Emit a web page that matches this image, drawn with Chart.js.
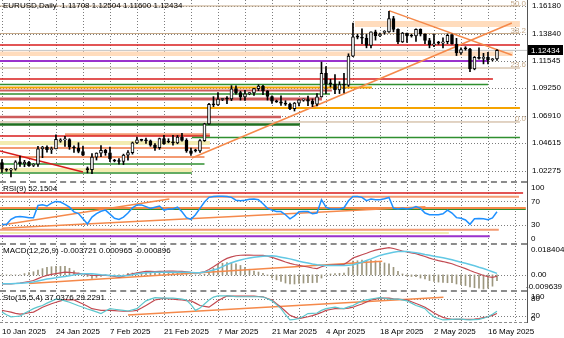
<!DOCTYPE html>
<html lang="en">
<head>
<meta charset="UTF-8">
<title>EURUSD, Daily</title>
<style>
  body { margin: 0; background: #fff; }
  #chart { position: relative; width: 564px; height: 338px; overflow: hidden; background: #fff; }
  #chart canvas { position: absolute; left: 0; }
  .sep { position: absolute; left: 0; width: 527px; border-top: 2px dashed #8c8c8c; }
  .axis { position: absolute; left: 527px; top: 0; width: 1px; height: 323px; background: #555; }
</style>
</head>
<body>
<div id="chart">
  <canvas id="mainChart" width="564" height="181" style="top:0px"></canvas>
  <canvas id="rsiChart" width="564" height="58" style="top:184px"></canvas>
  <canvas id="macdChart" width="564" height="44" style="top:246px"></canvas>
  <canvas id="stoChart" width="564" height="45" style="top:293px"></canvas>
  <div class="sep" style="top:181px"></div>
  <div class="sep" style="top:243px"></div>
  <div class="sep" style="top:290px"></div>
  <div class="sep" style="top:322px; border-top-width:1px"></div>
  <div class="axis"></div>
</div>

<script src="https://cdn.jsdelivr.net/npm/chart.js"></script>
<script>
// daily bars (broker feed with short Sunday bars)
var days = ['10 Jan','12 Jan','13 Jan','14 Jan','15 Jan','16 Jan','17 Jan','19 Jan','20 Jan','21 Jan','22 Jan','23 Jan','24 Jan','26 Jan','27 Jan','28 Jan','29 Jan','30 Jan','31 Jan',
  '2 Feb','3 Feb','4 Feb','5 Feb','6 Feb','7 Feb','9 Feb','10 Feb','11 Feb','12 Feb','13 Feb','14 Feb','16 Feb','17 Feb','18 Feb','19 Feb','20 Feb','21 Feb','23 Feb','24 Feb','25 Feb','26 Feb','27 Feb','28 Feb',
  '2 Mar','3 Mar','4 Mar','5 Mar','6 Mar','7 Mar','9 Mar','10 Mar','11 Mar','12 Mar','13 Mar','14 Mar','16 Mar','17 Mar','18 Mar','19 Mar','20 Mar','21 Mar','23 Mar','24 Mar','25 Mar','26 Mar','27 Mar','28 Mar','30 Mar','31 Mar',
  '1 Apr','2 Apr','3 Apr','4 Apr','6 Apr','7 Apr','8 Apr','9 Apr','10 Apr','11 Apr','13 Apr','14 Apr','15 Apr','16 Apr','17 Apr','18 Apr','20 Apr','21 Apr','22 Apr','23 Apr','24 Apr','25 Apr','27 Apr','28 Apr','29 Apr','30 Apr',
  '1 May','2 May','4 May','5 May','6 May','7 May','8 May','9 May','11 May','12 May','13 May','14 May','15 May','16 May','18 May','19 May'];

var open = [1.0299,1.0240,1.0236,1.0244,1.0306,1.0290,1.0300,1.0275,1.0285,1.0415,
  1.0430,1.0408,1.0414,1.0480,1.0490,1.0493,1.0430,1.0422,1.0392,1.0245,
  1.0240,1.0345,1.0379,1.0403,1.0382,1.0320,1.0312,1.0308,1.0361,1.0383,
  1.0465,1.0490,1.0486,1.0483,1.0446,1.0424,1.0500,1.0480,1.0472,1.0465,
  1.0513,1.0486,1.0398,1.0400,1.0398,1.0484,1.0625,1.0789,1.0785,1.0830,
  1.0835,1.0834,1.0920,1.0888,1.0852,1.0880,1.0885,1.0922,1.0943,1.0902,
  1.0855,1.0815,1.0810,1.0800,1.0790,1.0752,1.0800,1.0825,1.0830,1.0815,
  1.0790,1.0852,1.1050,1.0970,1.0960,1.0910,1.0955,1.0950,1.1195,1.1360,
  1.1355,1.1346,1.1285,1.1400,1.1368,1.1395,1.1400,1.1512,1.1420,1.1314,
  1.1389,1.1370,1.1365,1.1420,1.1380,1.1327,1.1290,1.1310,1.1305,1.1316,
  1.1370,1.1297,1.1222,1.1265,1.1255,1.1088,1.1185,1.1175,1.1187,1.1165,1.11708];
var high = [1.0325,1.0248,1.0250,1.0315,1.0353,1.0318,1.0310,1.0290,1.0435,1.0436,
  1.0439,1.0430,1.0533,1.0500,1.0520,1.0500,1.0440,1.0466,1.0437,1.0262,
  1.0375,1.0381,1.0443,1.0410,1.0430,1.0326,1.0333,1.0370,1.0400,1.0472,
  1.0513,1.0496,1.0505,1.0489,1.0458,1.0505,1.0528,1.0500,1.0528,1.0527,
  1.0545,1.0500,1.0420,1.0412,1.0492,1.0630,1.0797,1.0854,1.0888,1.0840,
  1.0855,1.0947,1.0946,1.0900,1.0907,1.0890,1.0925,1.0955,1.0950,1.0905,
  1.0860,1.0825,1.0860,1.0820,1.0800,1.0805,1.0830,1.0835,1.0858,1.0835,
  1.0880,1.1145,1.1107,1.1000,1.1040,1.0980,1.1050,1.1215,1.1473,1.1380,
  1.1425,1.1380,1.1400,1.1414,1.1390,1.1410,1.1573,1.1530,1.1425,1.1395,
  1.1390,1.1380,1.1425,1.1425,1.1384,1.1345,1.1381,1.1320,1.1350,1.1381,
  1.1380,1.1345,1.1265,1.1275,1.1260,1.1192,1.1265,1.1219,1.1228,1.1175,1.12504];
var low = [1.0215,1.0225,1.0178,1.0235,1.0266,1.0264,1.0266,1.0265,1.0266,1.0340,
  1.0386,1.0375,1.0414,1.0470,1.0434,1.0410,1.0385,1.0381,1.0358,1.0212,
  1.0205,1.0320,1.0348,1.0360,1.0307,1.0305,1.0285,1.0282,1.0320,1.0370,
  1.0459,1.0480,1.0461,1.0436,1.0402,1.0410,1.0452,1.0465,1.0445,1.0457,
  1.0480,1.0385,1.0360,1.0388,1.0385,1.0477,1.0620,1.0770,1.0780,1.0820,
  1.0794,1.0820,1.0875,1.0825,1.0822,1.0870,1.0865,1.0905,1.0870,1.0825,
  1.0797,1.0805,1.0780,1.0780,1.0745,1.0733,1.0775,1.0815,1.0778,1.0770,
  1.0776,1.0850,1.0880,1.0935,1.0880,1.0880,1.0885,1.0940,1.1190,1.1340,
  1.1300,1.1265,1.1265,1.1330,1.1360,1.1380,1.1395,1.1400,1.1300,1.1310,
  1.1310,1.1355,1.1320,1.1365,1.1300,1.1265,1.1274,1.1295,1.1265,1.1300,
  1.1295,1.1200,1.1210,1.1245,1.1065,1.1080,1.1170,1.1130,1.1130,1.1155,1.11600];
var close = [1.0244,1.0236,1.0244,1.0306,1.0290,1.0300,1.0272,1.0285,1.0415,1.0430,
  1.0408,1.0414,1.0495,1.0490,1.0493,1.0430,1.0422,1.0392,1.0362,1.0240,
  1.0345,1.0379,1.0403,1.0382,1.0329,1.0312,1.0308,1.0361,1.0383,1.0465,
  1.0491,1.0486,1.0483,1.0446,1.0424,1.0500,1.0459,1.0472,1.0465,1.0513,
  1.0486,1.0398,1.0375,1.0398,1.0484,1.0625,1.0789,1.0785,1.0833,1.0835,
  1.0834,1.0920,1.0888,1.0852,1.0877,1.0885,1.0922,1.0943,1.0902,1.0855,
  1.0815,1.0810,1.0800,1.0790,1.0752,1.0800,1.0828,1.0830,1.0815,1.0790,
  1.0852,1.1050,1.0960,1.0960,1.0910,1.0955,1.0950,1.1195,1.1357,1.1355,
  1.1346,1.1285,1.1400,1.1368,1.1375,1.1400,1.1512,1.1420,1.1314,1.1389,
  1.1365,1.1365,1.1420,1.1380,1.1327,1.1290,1.1298,1.1305,1.1316,1.1370,
  1.1297,1.1222,1.1251,1.1255,1.1088,1.1185,1.1175,1.1187,1.1163,1.1170,1.12434];

var rsi = [30,30,39,43,44,43,42,42,63,64,
  62,67,70,69,65,60,52,49,40,31,
  43,49,53,55,48,41,39,43,50,59,
  64,64,61,58,60,62,55,57,57,60,
  52,42,39,47,58,69,77,78.5,79,79,
  78.5,77,72,71,72,73.5,74,73,66,58,
  55,52.5,52.5,47,40,45,52,52.5,52.5,48.6,
  50,73,60,57,57,57,59,71,78.5,78.5,
  77,71.2,74,72.9,73,74.5,76.8,58,57,58,
  57,58,61,58,50,47,47,47,48.6,55,
  50,42,41,38,30.5,40,40.5,40,38.5,41.5,52.1504];

var macdMain = [-0.0057,-0.0057,-0.0057,-0.0055,-0.0053,-0.0047,-0.0042,-0.0036,-0.0024,-0.0012,
  -0.0003,0.0003,0.0008,0.0013,0.0017,0.0016,0.0013,0.0010,0.0007,0.0002,
  -0.0004,-0.0004,-0.0004,-0.0003,-0.0005,-0.0010,-0.0015,-0.0008,0.0001,0.0007,
  0.0013,0.0018,0.0022,0.0022,0.0021,0.0022,0.0023,0.0024,0.0024,0.0023,
  0.0022,0.0019,0.0016,0.0014,0.0014,0.0020,0.0034,0.0052,0.0071,0.0090,
  0.0105,0.0115,0.0122,0.0125,0.0126,0.0126,0.0125,0.0125,0.0124,0.0119,
  0.0112,0.0102,0.0092,0.0082,0.0073,0.0066,0.0060,0.0055,0.0050,0.0044,
  0.0040,0.0052,0.0060,0.0063,0.0064,0.0065,0.0066,0.0085,0.0108,0.0118,
  0.0128,0.0138,0.0149,0.0158,0.0164,0.0169,0.0173,0.0168,0.0160,0.0152,
  0.0146,0.0140,0.0135,0.0126,0.0117,0.0107,0.0098,0.0091,0.0085,0.0078,
  0.0071,0.0060,0.0050,0.0040,0.0028,0.0017,0.0007,-0.0004,-0.0012,-0.0016,-0.000896];
var macdSignal = [-0.0057,-0.0057,-0.0057,-0.0055,-0.0053,-0.0051,-0.0049,-0.0046,-0.0039,-0.0032,
  -0.0027,-0.0023,-0.0019,-0.0014,-0.0010,-0.0005,0.0000,0.0004,0.0007,0.0007,
  0.0007,0.0004,0.0001,-0.0001,-0.0004,-0.0006,-0.0008,-0.0006,-0.0004,0.0001,
  0.0007,0.0010,0.0013,0.0015,0.0016,0.0017,0.0017,0.0017,0.0017,0.0017,
  0.0017,0.0016,0.0015,0.0014,0.0013,0.0018,0.0024,0.0031,0.0039,0.0053,
  0.0066,0.0077,0.0087,0.0095,0.0102,0.0108,0.0113,0.0116,0.0119,0.0121,
  0.0122,0.0118,0.0113,0.0108,0.0102,0.0095,0.0087,0.0081,0.0075,0.0069,
  0.0064,0.0062,0.0060,0.0060,0.0060,0.0060,0.0060,0.0062,0.0064,0.0073,
  0.0081,0.0092,0.0102,0.0113,0.0124,0.0131,0.0138,0.0144,0.0149,0.0149,
  0.0149,0.0145,0.0141,0.0136,0.0130,0.0125,0.0119,0.0114,0.0109,0.0103,
  0.0096,0.0089,0.0081,0.0074,0.0066,0.0058,0.0049,0.0041,0.0030,0.0020,0.000965];
var macdHist = [0,0,0,0,0,0.0008,0.0014,0.0020,0.0030,0.0040,
  0.0048,0.0052,0.0054,0.0054,0.0054,0.0042,0.0026,0.0012,0,-0.0010,
  -0.0022,-0.0016,-0.0010,-0.0004,-0.0002,-0.0008,-0.0014,-0.0004,0.0010,0.0012,
  0.0012,0.0016,0.0018,0.0014,0.0010,0.0010,0.0012,0.0014,0.0014,0.0012,
  0.0010,0.0006,0.0002,0,0.0002,0.0004,0.0020,0.0042,0.0064,0.0074,
  0.0078,0.0076,0.0070,0.0060,0.0048,0.0036,0.0024,0.0018,0.0010,-0.0004,
  -0.0020,-0.0032,-0.0042,-0.0052,-0.0058,-0.0058,-0.0054,-0.0052,-0.0050,-0.0050,
  -0.0048,-0.0020,0,0.0006,0.0008,0.0010,0.0012,0.0046,0.0088,0.0090,
  0.0094,0.0092,0.0094,0.0090,0.0080,0.0076,0.0070,0.0048,0.0022,0.0006,
  -0.0006,-0.0010,-0.0012,-0.0020,-0.0026,-0.0036,-0.0042,-0.0046,-0.0048,-0.0050,
  -0.0050,-0.0058,-0.0062,-0.0068,-0.0076,-0.0082,-0.0084,-0.0090,-0.0084,-0.0072,-0.003721];

var stoMain = [34,25,18,19,20,30,38,46,52,57,
  65,72,79,77,73,68,62,56,51,45,
  40,35,29,38,46,44,42,40,38,42,
  46,60,73,79,84,83,82,82,82,81,
  79,76,60,40,48,62,76,86,90,90,
  90,89,87,87,87,87,87,87,86,80,
  73,60,46,25,7,9,12,20,29,30,
  31,40,46,49,51,48,46,52,57,65,
  73,76,79,82,84,82,79,79,79,76,
  73,65,57,52,46,30,18,12,7,8,
  9,10,10,8,7,8,9,13,18,27,37.0376];
var stoSignal = [40,37,34,30,27,29,32,34,42,51,
  57,63,68,73,77,76,76,69,62,54,
  46,43,40,40,40,39,38,37,37,38,
  40,48,57,66,76,79,82,80,79,77,
  76,74,73,65,57,54,51,62,73,82,
  90,89,89,89,89,89,89,88,87,81,
  76,63,51,37,23,17,12,15,18,22,
  27,33,40,43,46,46,46,48,51,57,
  62,69,76,79,82,82,82,80,79,77,
  76,70,64,58,51,41,31,23,16,12,
  9,9,9,9,9,10,12,15,18,23,29.2291];

// axis ticks
var xLabels = ['10 Jan 2025','24 Jan 2025','7 Feb 2025','21 Feb 2025','7 Mar 2025','21 Mar 2025','4 Apr 2025','18 Apr 2025','2 May 2025','16 May 2025'];
var weekTicks = [0,6,12,18,24,30,36,42,48,54,60,66,72,78,84,90,96,102,108,114];
var priceTicks = [1.02275,1.04615,1.06910,1.09250,1.11545,1.13840,1.16180];

// objects drawn on the chart: [price, from bar, to bar, colour, width]
var RED = '#d81c1c', IRED = '#cd5c5c', GREEN = '#2f8f2f', DKGREEN = '#1f6f1f', ORANGE = '#f5a300',
    PURPLE = '#9a32cd', SALMON = '#f39a72', PEACH = '#ffdcbd', KHAKI = '#f3ecb0', TAN = '#c4a888', TREND = '#f5894a';

var mainLevels = [
  [1.12889, -1, 115.1, RED, 1.5], [1.11542, -1, 108, PURPLE, 2], [1.10026, -1, 109.1, RED, 1.5],
  [1.09563, -1, 108, GREEN, 1.5], [1.09311, -1, 82.2, ORANGE, 2], [1.09058, -1, 73.3, IRED, 2],
  [1.08763, -1, 72.9, GREEN, 1.5], [1.08342, -1, 71.1, IRED, 3], [1.07584, -1, 115.1, ORANGE, 2],
  [1.06827, -1, 62, IRED, 2.5], [1.06195, -1, 66.2, DKGREEN, 2.5], [1.05101, 42.2, 115.1, GREEN, 1.5],
  [1.05227, -1, 46.2, RED, 1.5], [1.05353, 14, 46.2, SALMON, 2.5], [1.04216, -1, 46.2, SALMON, 2],
  [1.03458, -1, 45, SALMON, 2], [1.02869, -1, 45, GREEN, 1.5], [1.02112, -1, 42.2, GREEN, 1.5]
];
var mainBoxes = [ // top, bottom, from, to, colour
  [1.14910, 1.14405, 78.4, 115.1, PEACH], [1.12342, 1.11963, -1, 113.6, PEACH],
  [1.04806, 1.04469, -1, 46.2, KHAKI], [1.02532, 1.02196, -1, 42.2, KHAKI]
];
var fibLevels = [['50.0', 1.16173], ['38.2', 1.13857], ['23.6', 1.10952], ['0.0', 1.06406]];
var mainTrends = [ // x0, y0, x1, y1, colour
  [42.2, 1.03374, 113.3, 1.14741, TREND], [86, 1.1578, 113.3, 1.12047, TREND], [-0.44, 1.03964, 18, 1.02196, RED]
];
var rsiLevels = [
  [84.5, -1, 115.8, RED, 1.5], [78, -1, 114.9, SALMON, 2], [58.5, -1, 116.4, TREND, 2], [56.5, -1, 116.4, GREEN, 1.5],
  [21, -1, 110.4, SALMON, 2], [15.5, -1, 99.3, KHAKI, 2], [10, -1, 108.4, PURPLE, 2]
];
var rsiTrends = [[-0.04, 29.3, 37.2, 74.1, TREND], [-0.04, 23.6, 94.1, 60.9, TREND]];
var macdTrends = [[6, -0.0055, 84.5, 0.0087, TREND]];
var stoTrends = [[28, 24, 98.1, 85, TREND]];

var X_MIN = -0.44, X_MAX = 116.67;
var GRID = '#7c7c7c';
var FONT = '8px "Liberation Sans", Arial, sans-serif';
var fontObj = { family: '"Liberation Sans", Arial, sans-serif', size: 8 };
var last = close.length - 1;

function xScale(withDates) {
  return {
    type: 'linear', min: X_MIN, max: X_MAX, offset: false,
    grid: { display: false, drawTicks: false },
    border: { display: false },
    ticks: {
      display: withDates, autoSkip: false, maxRotation: 0, minRotation: 0, align: 'start',
      padding: 5, font: fontObj, color: '#000',
      callback: function (v) { return v % 12 === 0 && xLabels[v / 12] ? xLabels[v / 12] : ''; }
    },
    afterBuildTicks: function (s) { s.ticks = weekTicks.map(function (v) { return { value: v }; }); },
    afterFit: function (s) { s.paddingLeft = 0; s.paddingRight = 0; s.height = withDates ? 16 : 0; }
  };
}

function yScale(min, max, gridAt, showLabels) {
  return {
    position: 'right', min: min, max: max,
    grid: { display: false, drawTicks: false },
    border: { display: false },
    ticks: { display: showLabels, font: fontObj, color: '#000', padding: 5,
      callback: function (v) { return v.toFixed(5); } },
    afterBuildTicks: function (s) { s.ticks = gridAt.map(function (v) { return { value: v }; }); },
    afterFit: function (s) { s.width = 37; s.paddingTop = 0; s.paddingBottom = 0; }
  };
}

// dotted terminal grid, drawn at the scales' own tick positions
var dotGrid = {
  id: 'dotGrid',
  beforeDatasetsDraw: function (chart) {
    var ctx = chart.ctx, a = chart.chartArea, xs = chart.scales.x, ys = chart.scales.y;
    ctx.save();
    ctx.strokeStyle = GRID; ctx.lineWidth = 1; ctx.setLineDash([1, 2]);
    ctx.beginPath();
    xs.ticks.forEach(function (t) {
      var px = Math.round(xs.getPixelForValue(t.value)) + 0.5;
      if (px < a.left || px > a.right) return;
      ctx.moveTo(px, a.top); ctx.lineTo(px, a.bottom);
    });
    ys.ticks.forEach(function (t) {
      var py = Math.round(ys.getPixelForValue(t.value)) + 0.5;
      ctx.moveTo(a.left, py); ctx.lineTo(a.right, py);
    });
    ctx.stroke();
    ctx.restore();
  }
};

function options(y, withDates) {
  return {
    responsive: false, animation: false, events: [], devicePixelRatio: 1,
    layout: { padding: 0, autoPadding: false },
    plugins: { legend: { display: false }, tooltip: { enabled: false } },
    scales: { x: xScale(withDates), y: y }
  };
}

function seg(x0, y0, x1, y1, color, width, order) {
  return { type: 'line', data: [{ x: x0, y: y0 }, { x: x1, y: y1 }], borderColor: color,
    borderWidth: width, pointRadius: 0, order: order };
}
function box(top, bottom, x0, x1, color) {
  return { type: 'line', data: [{ x: x0, y: top }, { x: x1, y: top }], borderWidth: 0, pointRadius: 0,
    backgroundColor: color, fill: { value: bottom }, order: 60 };
}
function series(values, color, width) {
  return { type: 'line', data: values.map(function (v, i) { return { x: i, y: v }; }),
    borderColor: color, borderWidth: width, pointRadius: 0, order: 2 };
}

// labels on the right edge of a sub window, kept inside it like the terminal does
function paneText(title, side) {
  return {
    id: 'paneText',
    afterDraw: function (chart) {
      var ctx = chart.ctx, a = chart.chartArea, y = chart.scales.y;
      ctx.save();
      ctx.font = FONT; ctx.fillStyle = '#000'; ctx.textBaseline = 'middle'; ctx.textAlign = 'left';
      ctx.fillText(title, 3, a.top + 5);
      side.forEach(function (s) {
        var py = Math.min(Math.max(y.getPixelForValue(s[0]), a.top + 4), a.bottom - 3);
        ctx.fillText(s[1], a.right + (s[1].charAt(0) === '-' ? -1 : 4), py);
      });
      ctx.restore();
    }
  };
}

var mainText = {
  id: 'mainText',
  afterDraw: function (chart) {
    var ctx = chart.ctx, a = chart.chartArea, y = chart.scales.y;
    ctx.save();
    ctx.font = FONT; ctx.fillStyle = '#000'; ctx.textBaseline = 'middle';
    ctx.fillText('EURUSD,Daily  ' + open[last].toFixed(5) + ' ' + high[last].toFixed(5) + ' ' +
      low[last].toFixed(5) + ' ' + close[last].toFixed(5), 3, 6);
    ctx.fillStyle = TAN; ctx.textAlign = 'right'; ctx.textBaseline = 'bottom';
    fibLevels.forEach(function (f) {
      ctx.fillText(f[0], a.right - 1, Math.max(y.getPixelForValue(f[1]) + 1, 8));
    });
    var py = y.getPixelForValue(close[last]);
    ctx.fillStyle = '#000';
    ctx.fillRect(a.right, Math.round(py) - 5, 36, 10);
    ctx.fillStyle = '#fff'; ctx.textAlign = 'left'; ctx.textBaseline = 'middle';
    ctx.fillText(close[last].toFixed(5), a.right + 4, py);
    ctx.restore();
  }
};

// main window
var mainSets = [];
mainBoxes.forEach(function (b) { mainSets.push(box(b[0], b[1], b[2], b[3], b[4])); });
fibLevels.forEach(function (f) { mainSets.push(seg(-1, f[1], 115.1, f[1], TAN, 1, 50)); });
mainLevels.forEach(function (l) { mainSets.push(seg(l[1], l[0], l[2], l[0], l[3], l[4], 40)); });
mainSets.push(seg(X_MIN, close[last], X_MAX, close[last], '#c4c4c4', 1, 35));
mainTrends.forEach(function (t) { mainSets.push(seg(t[0], t[1], t[2], t[3], t[4], 1.5, 30)); });
mainSets.push({
  type: 'bar', order: 10, grouped: false, barThickness: 1, maxBarThickness: 1,
  data: days.map(function (d, i) { return { x: i, y: [low[i], high[i]] }; }),
  backgroundColor: '#000'
});
mainSets.push({
  type: 'bar', order: 5, grouped: false, barThickness: 3, maxBarThickness: 3, minBarLength: 1,
  data: days.map(function (d, i) { return { x: i, y: [Math.min(open[i], close[i]), Math.max(open[i], close[i])] }; }),
  backgroundColor: days.map(function (d, i) { return close[i] >= open[i] ? '#fff' : '#000'; }),
  borderColor: '#000', borderWidth: 1, borderSkipped: false
});
new Chart(document.getElementById('mainChart'), {
  type: 'bar', data: { datasets: mainSets },
  options: options(yScale(1.01438, 1.16678, priceTicks, true), false),
  plugins: [dotGrid, mainText]
});

// RSI(9)
var rsiSets = [];
rsiLevels.forEach(function (l) { rsiSets.push(seg(l[1], l[0], l[2], l[0], l[3], l[4], 20)); });
rsiTrends.forEach(function (t) { rsiSets.push(seg(t[0], t[1], t[2], t[3], t[4], 1.5, 10)); });
rsiSets.push(series(rsi, '#1e90ff', 1.5));
new Chart(document.getElementById('rsiChart'), {
  type: 'line', data: { datasets: rsiSets },
  options: options(yScale(0, 100, [30, 70], false), false),
  plugins: [dotGrid, paneText('RSI(9) ' + rsi[last].toFixed(4), [[100, '100'], [70, '70'], [30, '30'], [0, '0']])]
});

// MACD(12,26,9)
var macdSets = [];
macdSets.push({
  type: 'bar', order: 20, barThickness: 1, maxBarThickness: 1,
  data: macdHist.map(function (v, i) { return { x: i, y: v }; }), backgroundColor: '#9c967e'
});
macdTrends.forEach(function (t) { macdSets.push(seg(t[0], t[1], t[2], t[3], t[4], 1.5, 10)); });
macdSets.push(series(macdSignal, '#62c8e4', 1.5));
macdSets.push(series(macdMain, '#c24a52', 1.2));
new Chart(document.getElementById('macdChart'), {
  type: 'bar', data: { datasets: macdSets },
  options: options(yScale(-0.009639, 0.018404, [0], false), false),
  plugins: [dotGrid, paneText('MACD(12,26,9) ' + macdHist[last].toFixed(6) + ' ' + macdSignal[last].toFixed(6) + ' ' + macdMain[last].toFixed(6),
    [[0.018404, '0.018404'], [0, '0.00'], [-0.009639, '-0.009639']])]
});

// Stochastic(15,5,4)
var stoSets = [];
stoTrends.forEach(function (t) { stoSets.push(seg(t[0], t[1], t[2], t[3], t[4], 1.5, 10)); });
stoSets.push(series(stoMain, '#5cc6cc', 1.2));
stoSets.push(series(stoSignal, '#c2484f', 1.2));
new Chart(document.getElementById('stoChart'), {
  type: 'line', data: { datasets: stoSets },
  options: options(yScale(0, 100, [20, 80], false), true),
  plugins: [dotGrid, paneText('Sto(15,5,4) ' + stoMain[last].toFixed(4) + ' ' + stoSignal[last].toFixed(4),
    [[100, '100'], [80, '80'], [20, '20'], [0, '0']])]
});
</script>
</body>
</html>
